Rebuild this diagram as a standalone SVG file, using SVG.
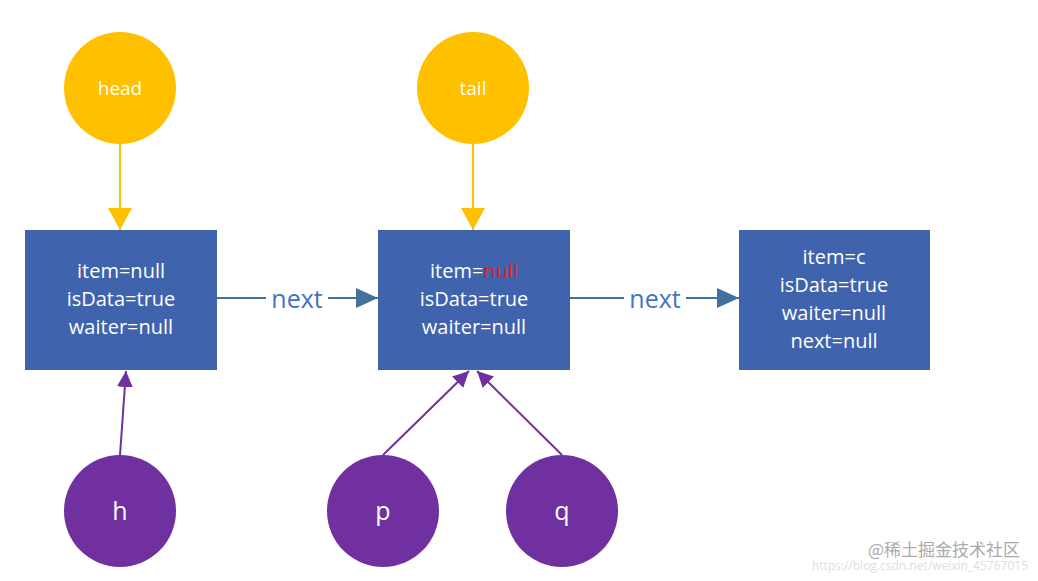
<svg xmlns="http://www.w3.org/2000/svg" width="1038" height="581" viewBox="0 0 1038 581">
<style>
text{font-family:"Open Sans","Liberation Sans",sans-serif;text-anchor:middle}
.y{fill:#FFC000}.p{fill:#7030A0}.b{fill:#3F63AD}
.bt{fill:#fff;font-size:20px}
.ct{fill:#fff;font-size:19px}
.pt{fill:#fff;font-size:25px}
.nx{fill:#4472C4;font-size:25px}
</style>
<defs>
<marker id="ab" markerWidth="22" markerHeight="20" refX="22" refY="10" orient="auto" markerUnits="userSpaceOnUse"><path d="M0,0L22,10L0,20z" fill="#41719C"/></marker>
<marker id="ap" markerWidth="16" markerHeight="16" refX="16" refY="8" orient="auto" markerUnits="userSpaceOnUse"><path d="M0,0L16,8L0,16z" fill="#7030A0"/></marker>
</defs>
<rect width="1038" height="581" fill="#fff"/>
<g id="connectors" fill="none">
<path d="M120,144V230" stroke="#FFC000" stroke-width="2"/>
<path d="M108,208L120,230L132,208z" fill="#FFC000"/>
<path d="M473,144V230" stroke="#FFC000" stroke-width="2"/>
<path d="M461,208L473,230L485,208z" fill="#FFC000"/>
<path d="M217,298H266M328,298H378" stroke="#41719C" stroke-width="2" marker-end="url(#ab)"/>
<path d="M570,298H624M686,298H739" stroke="#41719C" stroke-width="2" marker-end="url(#ab)"/>
<path d="M120,455L126,371" stroke="#7030A0" stroke-width="2" marker-end="url(#ap)"/>
<path d="M383,455L469,371" stroke="#7030A0" stroke-width="2" marker-end="url(#ap)"/>
<path d="M562,455L477,371" stroke="#7030A0" stroke-width="2" marker-end="url(#ap)"/>
<text x="297" y="308" class="nx">next</text>
<text x="655" y="308" class="nx">next</text>
</g>
<g id="head"><circle cx="120" cy="88" r="56" class="y"/><text x="120" y="95" class="ct">head</text></g>
<g id="tail"><circle cx="473" cy="88" r="56" class="y"/><text x="473" y="95" class="ct">tail</text></g>
<g id="node1"><rect x="25" y="230" width="192" height="140" class="b"/>
<text x="121" y="278" class="bt">item=null</text><text x="121" y="306" class="bt">isData=true</text><text x="121" y="334" class="bt">waiter=null</text></g>
<g id="node2"><rect x="378" y="230" width="192" height="140" class="b"/>
<text x="474" y="278" class="bt">item=<tspan fill="#E02020">null</tspan></text><text x="474" y="306" class="bt">isData=true</text><text x="474" y="334" class="bt">waiter=null</text></g>
<g id="node3"><rect x="739" y="230" width="191" height="140" class="b"/>
<text x="834" y="264" class="bt">item=c</text><text x="834" y="292" class="bt">isData=true</text><text x="834" y="320" class="bt">waiter=null</text><text x="834" y="348" class="bt">next=null</text></g>
<g id="h"><circle cx="120" cy="511" r="56" class="p"/><text x="120" y="520" class="pt">h</text></g>
<g id="p"><circle cx="383" cy="511" r="56" class="p"/><text x="383" y="520" class="pt">p</text></g>
<g id="q"><circle cx="562" cy="511" r="56" class="p"/><text x="562" y="520" class="pt">q</text></g>
<text x="1028" y="570" style="text-anchor:end;font-size:12px;fill:#ddd">https://blog.csdn.net/weixin_45767015</text>
<text x="1020" y="556" style="text-anchor:end;font-size:17px;fill:#aaa;font-family:'Noto Sans CJK SC',sans-serif">@稀土掘金技术社区</text>
</svg>
